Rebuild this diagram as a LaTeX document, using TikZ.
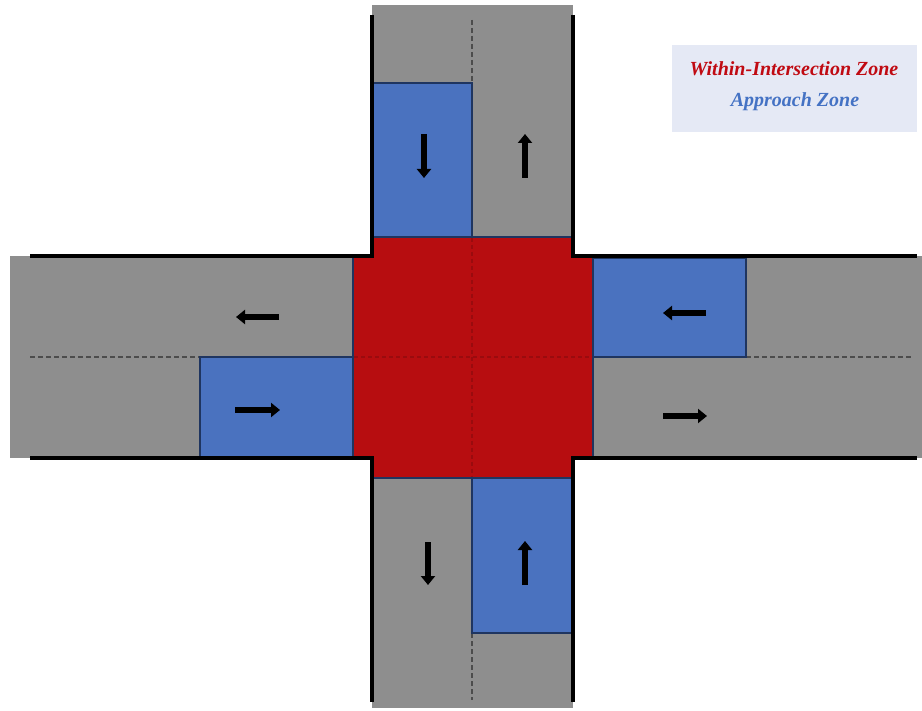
\documentclass[tikz,border=0pt]{standalone}
\usepackage{fontspec}
\setmainfont{Liberation Serif}
\usetikzlibrary{arrows.meta,positioning}
\definecolor{roadgray}{HTML}{8E8E8E}
\definecolor{zoneblue}{HTML}{4A72BF}
\definecolor{zonered}{HTML}{B70D10}
\definecolor{navy}{HTML}{1F3560}
\definecolor{redline}{HTML}{9A0B0E}
\definecolor{legendfill}{HTML}{E5E9F5}
\definecolor{legendred}{HTML}{C00A12}
\definecolor{legendblue}{HTML}{4472C4}
\tikzset{
  figbase/.style={x=1pt, y=-1pt, line join=miter},
  road/.style={fill=roadgray, draw=none},
  approach/.style={fill=zoneblue, draw=navy, line width=1.6pt},
  core/.style={fill=zonered, draw=navy, line width=1.6pt},
  curb/.style={draw=black, line width=3.4pt},
  laneline/.style={draw=black!70, line width=2pt, dash pattern=on 5pt off 3pt},
  coreline/.style={draw=redline, line width=1.4pt, dash pattern=on 4pt off 3pt},
  dir/.style={-{Triangle[length=9pt,width=14pt]}, line width=6.5pt, draw=black},
  legendbox/.style={fill=legendfill, draw=none},
  legtxt/.style={font=\fontsize{20}{24}\selectfont\bfseries\itshape, inner sep=0pt},
}
\begin{document}
\begin{tikzpicture}[figbase]
  \useasboundingbox (0,0) rectangle (922,711);

  \fill[road] (372,5) rectangle (573,237);
  \fill[road] (372,478) rectangle (573,708);
  \fill[road] (10,256) rectangle (353,458);
  \fill[road] (593,256) rectangle (922,458);

  \draw[laneline] (472,20) -- (472,83);
  \draw[laneline] (472,633) -- (472,700);
  \draw[laneline] (30,357) -- (200,357);
  \draw[laneline] (746,357) -- (912,357);

  \filldraw[approach] (372,83) rectangle (472,237);
  \filldraw[approach] (472,478) rectangle (572,633);
  \filldraw[approach] (200,357) rectangle (353,457);
  \filldraw[approach] (593,258) rectangle (746,357);

  \filldraw[core] (373,237) -- (572,237) -- (572,255) -- (593,255) -- (593,458)
    -- (572,458) -- (572,478) -- (373,478) -- (373,458) -- (353,458)
    -- (353,255) -- (373,255) -- cycle;
  \draw[coreline] (472,238) -- (472,477);
  \draw[coreline] (354,357) -- (592,357);

  \draw[curb] (372,15) -- (372,256) -- (30,256);
  \draw[curb] (573,15) -- (573,256) -- (917,256);
  \draw[curb] (30,458) -- (372,458) -- (372,702);
  \draw[curb] (917,458) -- (573,458) -- (573,702);

  \coordinate (ns1) at (424,134);  \coordinate (ns2) at (424,178);
  \coordinate (nn1) at (525,178);  \coordinate (nn2) at (525,134);
  \coordinate (ww1) at (279,317);  \coordinate (ww2) at (236,317);
  \coordinate (we1) at (235,410);  \coordinate (we2) at (280,410);
  \coordinate (ew1) at (706,313);  \coordinate (ew2) at (663,313);
  \coordinate (ee1) at (663,416);  \coordinate (ee2) at (707,416);
  \coordinate (ss1) at (428,542);  \coordinate (ss2) at (428,585);
  \coordinate (sn1) at (525,585);  \coordinate (sn2) at (525,541);
  \foreach \a/\b in {ns1/ns2, nn1/nn2, ww1/ww2, we1/we2, ew1/ew2, ee1/ee2, ss1/ss2, sn1/sn2}
    \draw[dir] (\a) -- (\b);

  \fill[legendbox] (672,45) rectangle (917,132);
  \node[legtxt, text=legendred] (lwz) at (794,69) {Within-Intersection Zone};
  \node[legtxt, text=legendblue] (laz) at (795,102) {Approach Zone};
\end{tikzpicture}
\end{document}
